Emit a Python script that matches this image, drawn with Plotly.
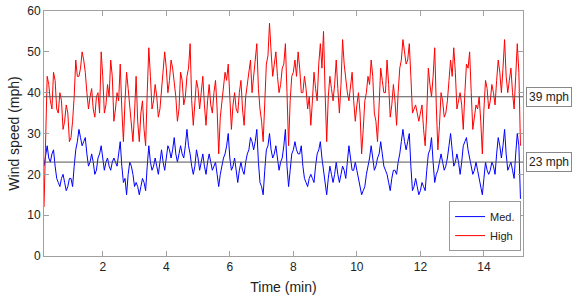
import plotly.graph_objects as go

# samples every 0.1 min starting at 0.15 min
high_tenths = [12, 44, 38, 45, 36, 40, 31, 37, 28, 33,
               48, 44, 50, 45, 36, 41, 34, 40, 50, 35,
               42, 48, 33, 40, 47, 28, 45, 36, 28, 44,
               28, 38, 27, 51, 36, 42, 34, 41, 50, 40,
               48, 42, 33, 45, 37, 44, 52, 32, 43, 36,
               44, 32, 42, 35, 43, 25, 38, 45, 47, 31,
               40, 35, 43, 32, 42, 48, 45, 52, 36, 28,
               47, 57, 44, 50, 40, 46, 52, 27, 44, 48,
               50, 40, 44, 36, 32, 45, 38, 52, 55, 28,
               44, 38, 48, 35, 53, 43, 38, 45, 33, 40,
               25, 38, 44, 48, 35, 28, 46, 40, 48, 34,
               42, 32, 46, 53, 47, 52, 35, 37, 33, 37,
               27, 46, 39, 51, 26, 40, 34, 38, 48, 51,
               36, 40, 31, 47, 50, 31, 37, 39, 25, 43,
               36, 42, 37, 48, 40, 53, 40, 46, 36, 52,
               27]
# samples read half-way between the ones above (0.2, 0.3, ... 15.1 min)
high_between = [30, 42, 36, 43, 35, 38, 33, 35, 29, 39,
                44, 46, 48, 40, 39, 36, 39, 35, 44, 37,
                39, 44, 36, 38, 36, 38, 41, 33, 35, 33,
                35, 31, 40, 44, 38, 39, 36, 44, 46, 43,
                46, 39, 36, 43, 39, 46, 38, 39, 41, 40,
                37, 38, 37, 40, 36, 34, 41, 43, 39, 37,
                36, 40, 36, 39, 44, 40, 48, 41, 33, 40,
                49, 50, 47, 44, 42, 47, 40, 38, 45, 44,
                46, 40, 41, 39, 38, 41, 47, 46, 40, 39,
                41, 42, 41, 42, 47, 40, 42, 38, 37, 35,
                31, 40, 42, 44, 33, 37, 43, 40, 42, 37,
                38, 40, 48, 50, 48, 44, 36, 35, 35, 31,
                35, 42, 44, 37, 32, 38, 35, 43, 44, 45,
                38, 37, 40, 46, 40, 34, 36, 33, 36, 41,
                38, 40, 43, 45, 46, 44, 43, 40, 44, 45]

med_tenths = [22, 27, 23, 26, 19, 17, 20, 16, 19, 17,
              26, 31, 27, 29, 22, 25, 20, 24, 27, 21,
              24, 21, 24, 22, 28, 18, 15, 23, 20, 18,
              15, 19, 16, 27, 21, 24, 20, 26, 21, 27,
              24, 29, 23, 27, 24, 31, 25, 20, 26, 21,
              25, 20, 25, 21, 23, 17, 22, 25, 30, 21,
              24, 18, 23, 20, 25, 29, 26, 31, 18, 15,
              26, 30, 24, 27, 21, 24, 31, 17, 25, 28,
              25, 27, 19, 17, 20, 18, 25, 28, 21, 15,
              22, 18, 23, 18, 22, 19, 27, 21, 23, 19,
              15, 17, 22, 27, 21, 24, 28, 22, 20, 16,
              21, 20, 25, 31, 26, 30, 16, 19, 15, 18,
              16, 25, 29, 18, 21, 25, 21, 24, 30, 22,
              25, 20, 27, 29, 24, 20, 23, 19, 15, 23,
              20, 23, 20, 29, 24, 31, 21, 23, 19, 30,
              14]
med_between = [25, 24, 25, 22, 18, 19, 18, 17, 19, 22,
               28, 29, 28, 25, 23, 23, 21, 25, 24, 23,
               22, 23, 23, 25, 22, 19, 20, 22, 17, 17,
               17, 18, 22, 23, 22, 22, 23, 23, 24, 26,
               26, 25, 25, 25, 27, 27, 22, 22, 24, 23,
               22, 23, 23, 22, 20, 20, 24, 27, 24, 22,
               21, 21, 21, 23, 26, 28, 28, 23, 17, 21,
               27, 26, 25, 24, 23, 27, 22, 21, 26, 26,
               25, 22, 18, 19, 19, 22, 26, 24, 17, 19,
               20, 20, 20, 20, 21, 23, 24, 21, 21, 17,
               16, 20, 24, 24, 22, 25, 25, 21, 18, 19,
               21, 23, 28, 28, 28, 22, 17, 17, 16, 17,
               21, 26, 23, 20, 23, 23, 22, 27, 26, 23,
               23, 23, 28, 26, 22, 21, 21, 17, 19, 21,
               21, 22, 25, 27, 27, 25, 22, 21, 25, 27]

series_names = ["Med.", "High"]
mean_levels = [23, 39]
mean_labels = ["23 mph", "39 mph"]
x_ticks = [2, 4, 6, 8, 10, 12, 14]
y_ticks = [0, 10, 20, 30, 40, 50, 60]


def merge(tenths, between):
    t, v = [], []
    for i, val in enumerate(tenths):
        t.append(round(0.15 + 0.1 * i, 3))
        v.append(val)
        if i < len(between):
            t.append(round(0.20 + 0.1 * i, 3))
            v.append(between[i])
    return t, v


t_med, v_med = merge(med_tenths, med_between)
t_high, v_high = merge(high_tenths, high_between)

FONT = "Liberation Sans, Arial, Helvetica, sans-serif"
AXIS_GRAY = "#a0a0a0"

fig = go.Figure()
fig.add_trace(go.Scatter(x=t_med, y=v_med, mode="lines", name=series_names[0],
                         line=dict(color="#0000ff", width=1)))
fig.add_trace(go.Scatter(x=t_high, y=v_high, mode="lines", name=series_names[1],
                         line=dict(color="#ff0000", width=1)))

for lvl, lab in zip(mean_levels, mean_labels):
    fig.add_shape(type="line", xref="paper", x0=0, x1=1, yref="y", y0=lvl, y1=lvl,
                  line=dict(color="#555555", width=1))
    fig.add_annotation(xref="paper", x=1.006, xanchor="left", yref="y", y=lvl,
                       yanchor="middle", text=lab, showarrow=False,
                       font=dict(family=FONT, size=12, color="#222222"),
                       bgcolor="white", bordercolor="#888888", borderwidth=1, borderpad=2)

fig.update_layout(
    width=573, height=296,
    margin=dict(l=44, r=50, t=4, b=40),
    paper_bgcolor="white", plot_bgcolor="white",
    font=dict(family=FONT, size=12, color="#222222"),
    showlegend=True,
    legend=dict(x=0.996, y=0.02, xanchor="right", yanchor="bottom",
                bordercolor="#999999", borderwidth=1, bgcolor="white",
                font=dict(family=FONT, size=11, color="#222222"),
                itemwidth=30, tracegroupgap=0),
)
fig.update_xaxes(range=[0.15, 15.23], tickvals=x_ticks, ticks="inside", ticklen=5,
                 tickcolor=AXIS_GRAY, showline=True, linecolor=AXIS_GRAY, mirror="ticks",
                 showgrid=False, zeroline=False, ticklabeloverflow="allow",
                 title=dict(text="Time (min)", font=dict(family=FONT, size=14), standoff=8),
                 tickfont=dict(family=FONT, size=12))
fig.update_yaxes(range=[0, 60], tickvals=y_ticks, ticks="inside", ticklen=5,
                 tickcolor=AXIS_GRAY, showline=True, linecolor=AXIS_GRAY, mirror="ticks",
                 showgrid=False, zeroline=False, ticklabeloverflow="allow",
                 title=dict(text="Wind speed (mph)", font=dict(family=FONT, size=14), standoff=4),
                 tickfont=dict(family=FONT, size=12))

fig.write_html("out.html", config={"displayModeBar": False},
               post_script="document.body.style.margin='0';")
